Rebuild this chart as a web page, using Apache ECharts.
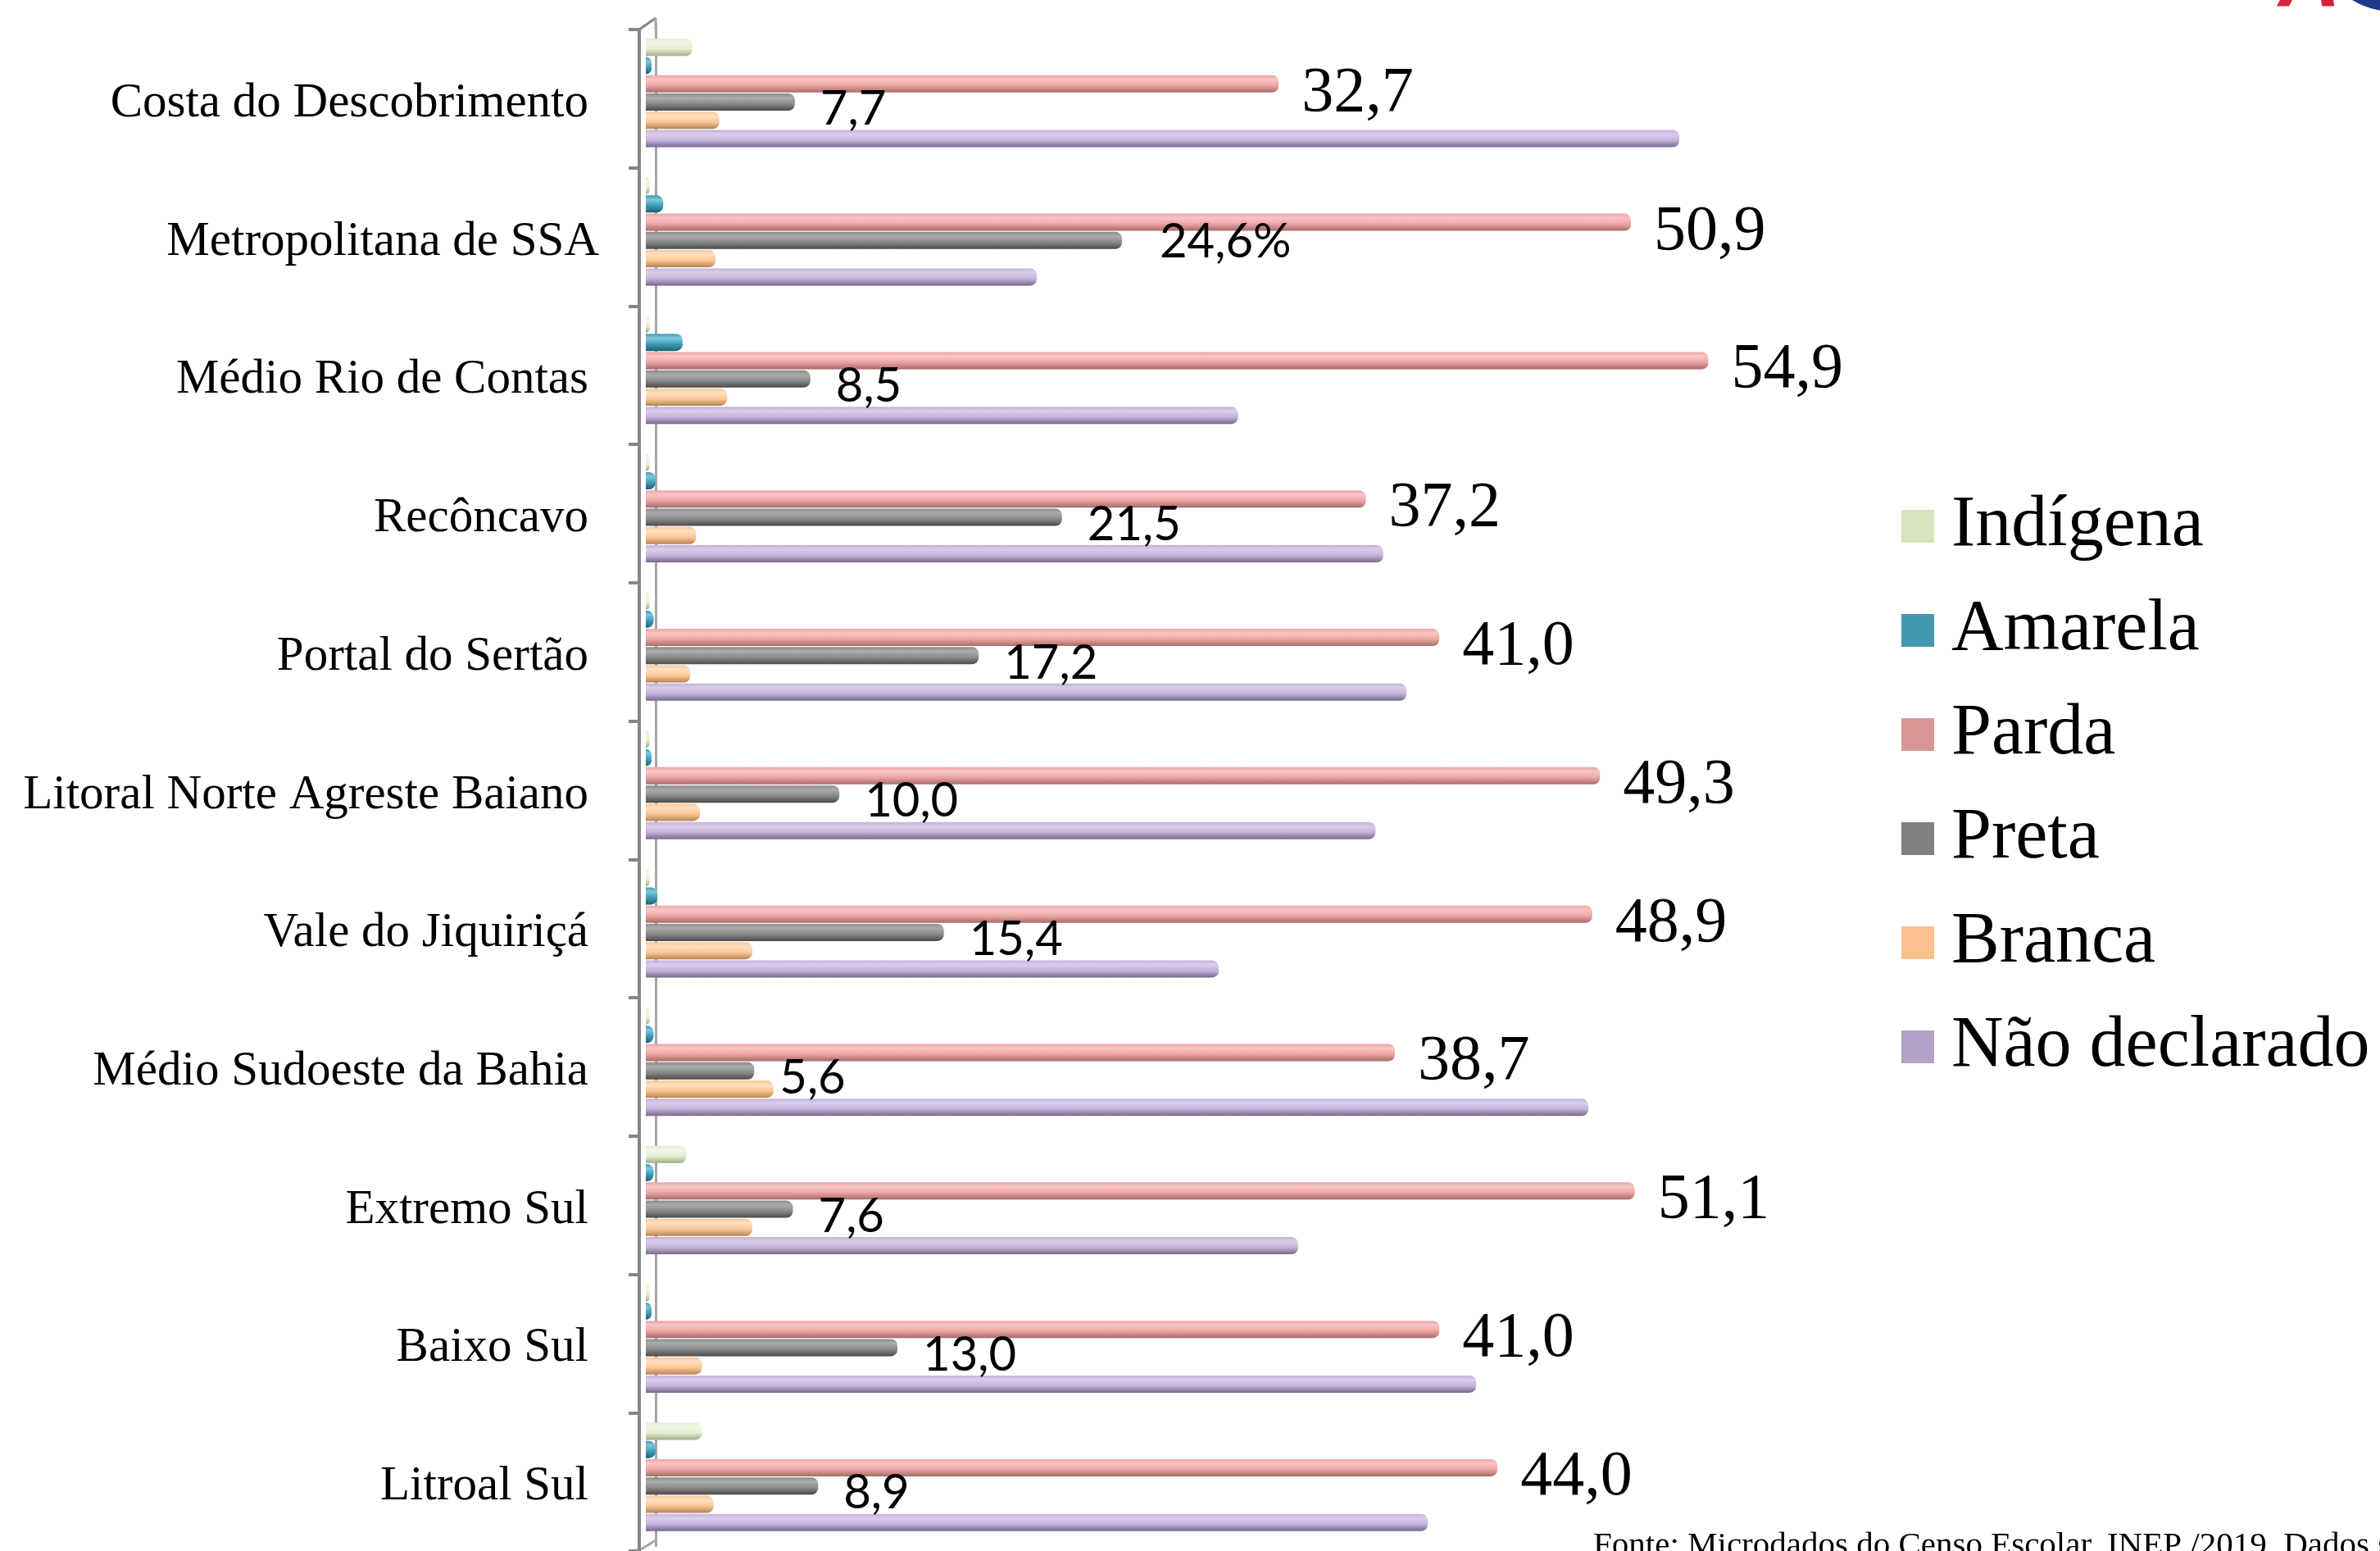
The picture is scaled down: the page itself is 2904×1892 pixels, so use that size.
<!DOCTYPE html>
<html>
<head>
<meta charset="utf-8">
<script src="https://cdn.jsdelivr.net/npm/echarts@6/dist/echarts.min.js"></script>
<style>
html,body{margin:0;padding:0;background:#fff;}
#chart{width:2904px;height:1892px;}
</style>
</head>
<body>
<div id="chart"></div>
<script>
// ---- data ----
const categories = [
  'Costa do Descobrimento',
  'Metropolitana de SSA',
  'Médio Rio de Contas',
  'Recôncavo',
  'Portal do Sertão',
  'Litoral Norte Agreste Baiano',
  'Vale do Jiquiriçá',
  'Médio Sudoeste da Bahia',
  'Extremo Sul',
  'Baixo Sul',
  'Litroal Sul'
];
const seriesNames = ['Indígena', 'Amarela', 'Parda', 'Preta', 'Branca', 'Não declarado'];
const indigena     = [2.4, 0.2, 0.2, 0.2, 0.2, 0.2, 0.2, 0.2, 2.1, 0.2, 2.9];
const amarela      = [0.3, 0.9, 1.9, 0.5, 0.4, 0.3, 0.6, 0.4, 0.4, 0.3, 0.5];
const parda        = [32.7, 50.9, 54.9, 37.2, 41.0, 49.3, 48.9, 38.7, 51.1, 41.0, 44.0];
const preta        = [7.7, 24.6, 8.5, 21.5, 17.2, 10.0, 15.4, 5.6, 7.6, 13.0, 8.9];
const branca       = [3.8, 3.6, 4.2, 2.6, 2.3, 2.8, 5.5, 6.6, 5.5, 2.9, 3.5];
const naoDeclarado = [53.4, 20.2, 30.6, 38.1, 39.3, 37.7, 29.6, 48.7, 33.7, 42.9, 40.4];
const pretaLabelSuffix = ['', '%', '', '', '', '', '', '', '', '', ''];
const footnote = 'Fonte: Microdados do Censo Escolar, INEP /2019. Dados sistematizados';

// ---- styles ----
const baseColors = ['#d7e4bd', '#4398ae', '#d99694', '#7f7f7f', '#fac090', '#b3a2c7'];
const shades = [
  ['#f1f7e4', '#e4eed1', '#9eab86'],
  ['#7dc7db', '#3c9cb6', '#1d6274'],
  ['#f8c6c5', '#eca4a3', '#a56b69'],
  ['#ababab', '#8a8a8a', '#4a4a4a'],
  ['#fee0c2', '#fcc696', '#b58350'],
  ['#dacdea', '#c4b2da', '#76678a']
];
const seriesData = [indigena, amarela, parda, preta, branca, naoDeclarado];
const fmt = v => v.toFixed(1).replace('.', ',');

function grad(s) {
  return new echarts.graphic.LinearGradient(0, 0, 0, 1, [
    {offset: 0, color: s[1]},
    {offset: 0.25, color: s[0]},
    {offset: 0.6, color: s[1]},
    {offset: 1, color: s[2]}
  ]);
}

const series = seriesNames.map((name, si) => {
  const s = {
    name: name,
    type: 'bar',
    xAxisIndex: 0,
    yAxisIndex: 0,
    barWidth: 21,
    barGap: '6%',
    data: seriesData[si].map(v => v),
    itemStyle: {color: grad(shades[si]), borderRadius: [0, 8, 8, 0]},
    emphasis: {disabled: true},
    animation: false
  };
  if (name === 'Parda') {
    s.label = {
      show: true, position: 'right', distance: 28, offset: [0, 12],
      fontFamily: 'Liberation Serif', fontSize: 78, color: '#000',
      formatter: p => fmt(p.value)
    };
  }
  if (name === 'Preta') {
    s.label = {
      show: true, position: 'right', distance: 31, offset: [0, 9],
      fontFamily: 'Lato', fontSize: 58, color: '#000',
      formatter: p => fmt(p.value) + pretaLabelSuffix[p.dataIndex]
    };
    s.data = seriesData[si].map((v, i) => pretaLabelSuffix[i] ?
      {value: v, label: {distance: 46, offset: [0, 2]}} : v);
  }
  return s;
});

const chart = echarts.init(document.getElementById('chart'), null, {renderer: 'canvas'});
chart.setOption({
  backgroundColor: '#ffffff',
  animation: false,
  color: baseColors,
  grid: [
    {left: 788, top: 29, width: 1417, height: 1857},
    {left: 780, top: 36, width: 1417, height: 1857}
  ],
  xAxis: [
    {gridIndex: 0, type: 'value', min: 0, max: 60, show: false},
    {gridIndex: 1, type: 'value', min: 0, max: 60, show: false}
  ],
  yAxis: [
    {
      gridIndex: 0, type: 'category', inverse: true, data: categories,
      offset: -12,
      axisLine: {show: true, lineStyle: {color: '#a6a6a6', width: 3}},
      axisTick: {show: false}, axisLabel: {show: false}, splitLine: {show: false}
    },
    {
      gridIndex: 1, type: 'category', inverse: true, data: categories,
      axisLine: {show: true, lineStyle: {color: '#868686', width: 4}},
      axisTick: {show: true, length: 13, lineStyle: {color: '#868686', width: 4}},
      axisLabel: {
        show: true, margin: 62, color: '#000',
        fontFamily: 'Liberation Serif', fontSize: 59,
        padding: [12, 0, 0, 0],
        formatter: (v, i) => i === 1 ? '{w|' + v + '}' : v,
        rich: {
          w: {fontFamily: 'Liberation Serif', fontSize: 59, color: '#000', padding: [0, -13, 0, 0]}
        }
      },
      splitLine: {show: false}
    }
  ],
  legend: {
    orient: 'vertical',
    left: 2315,
    top: 593,
    itemWidth: 40,
    itemHeight: 40,
    itemGap: 39,
    icon: 'rect',
    data: seriesNames.map((n, i) => ({name: n, itemStyle: {color: baseColors[i]}})),
    textStyle: {
      fontFamily: 'Liberation Serif', fontSize: 88, color: '#000',
      lineHeight: 88, padding: [0, 0, 0, 16]
    }
  },
  graphic: [
    {type: 'line', shape: {x1: 780, y1: 36, x2: 800, y2: 22},
     style: {stroke: '#868686', lineWidth: 3}, z: 1},
    {type: 'line', shape: {x1: 800, y1: 22, x2: 800, y2: 36},
     style: {stroke: '#a6a6a6', lineWidth: 3}, z: 1},
    {type: 'line', shape: {x1: 782, y1: 1890, x2: 800, y2: 1879},
     style: {stroke: '#a6a6a6', lineWidth: 3}, z: 1},
    {type: 'text', x: 1944, y: 1866,
     style: {text: footnote, font: '41px "Liberation Serif"', fill: '#000', verticalAlign: 'top'}},
    {type: 'text', x: 2780, y: -21,
     style: {text: 'A', font: 'italic bold 105px "Liberation Sans"', fill: '#d6213b', verticalAlign: 'middle'}},
    {type: 'circle', shape: {cx: 2920, cy: -82, r: 96},
     style: {fill: '#1f3a8a'}}
  ],
  series: series
});
</script>
</body>
</html>
